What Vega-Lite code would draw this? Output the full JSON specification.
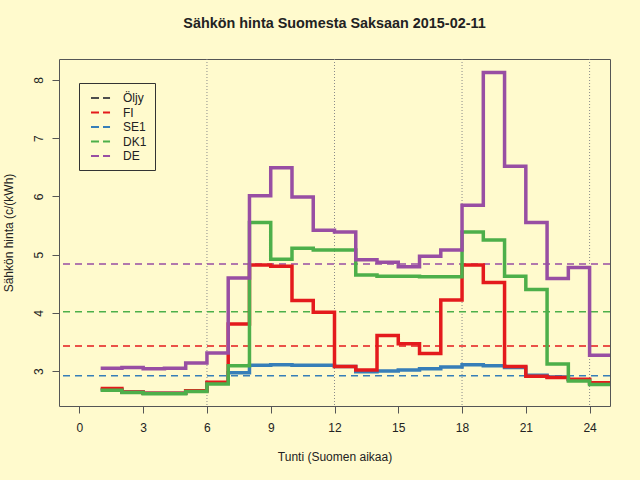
{
  "$schema": "https://vega.github.io/schema/vega-lite/v6.json",
  "description": "Sähkön hinta Suomesta Saksaan 2015-02-11, tunneittain",
  "width": 551,
  "height": 347,
  "autosize": {"type": "none"},
  "padding": {"left": 59, "top": 59, "right": 30, "bottom": 74},
  "background": "#FFFACD",
  "config": {
    "font": "Liberation Sans",
    "view": {"stroke": "#555555", "fill": null}
  },
  "title": {
    "text": "Sähkön hinta Suomesta Saksaan 2015-02-11",
    "fontSize": 14.4,
    "fontWeight": "bold",
    "color": "#222222",
    "anchor": "middle",
    "baseline": "alphabetic",
    "offset": 16
  },
  "datasets": {
    "hinnat": [
      {"alue": "SE1", "tunti": 1, "hinta": 2.68}, {"alue": "SE1", "tunti": 2, "hinta": 2.64},
      {"alue": "SE1", "tunti": 3, "hinta": 2.62}, {"alue": "SE1", "tunti": 4, "hinta": 2.62},
      {"alue": "SE1", "tunti": 5, "hinta": 2.66}, {"alue": "SE1", "tunti": 6, "hinta": 2.8},
      {"alue": "SE1", "tunti": 7, "hinta": 2.97}, {"alue": "SE1", "tunti": 8, "hinta": 3.1},
      {"alue": "SE1", "tunti": 9, "hinta": 3.11}, {"alue": "SE1", "tunti": 10, "hinta": 3.1},
      {"alue": "SE1", "tunti": 11, "hinta": 3.1}, {"alue": "SE1", "tunti": 12, "hinta": 3.08},
      {"alue": "SE1", "tunti": 13, "hinta": 2.99}, {"alue": "SE1", "tunti": 14, "hinta": 3.0},
      {"alue": "SE1", "tunti": 15, "hinta": 3.02}, {"alue": "SE1", "tunti": 16, "hinta": 3.04},
      {"alue": "SE1", "tunti": 17, "hinta": 3.07}, {"alue": "SE1", "tunti": 18, "hinta": 3.11},
      {"alue": "SE1", "tunti": 19, "hinta": 3.09}, {"alue": "SE1", "tunti": 20, "hinta": 3.06},
      {"alue": "SE1", "tunti": 21, "hinta": 2.93}, {"alue": "SE1", "tunti": 22, "hinta": 2.9},
      {"alue": "SE1", "tunti": 23, "hinta": 2.85}, {"alue": "SE1", "tunti": 24, "hinta": 2.79},
      {"alue": "SE1", "tunti": 25, "hinta": 2.79},
      {"alue": "FI", "tunti": 1, "hinta": 2.7}, {"alue": "FI", "tunti": 2, "hinta": 2.64},
      {"alue": "FI", "tunti": 3, "hinta": 2.62}, {"alue": "FI", "tunti": 4, "hinta": 2.62},
      {"alue": "FI", "tunti": 5, "hinta": 2.66}, {"alue": "FI", "tunti": 6, "hinta": 2.81},
      {"alue": "FI", "tunti": 7, "hinta": 3.81}, {"alue": "FI", "tunti": 8, "hinta": 4.82},
      {"alue": "FI", "tunti": 9, "hinta": 4.8}, {"alue": "FI", "tunti": 10, "hinta": 4.21},
      {"alue": "FI", "tunti": 11, "hinta": 4.01}, {"alue": "FI", "tunti": 12, "hinta": 3.08},
      {"alue": "FI", "tunti": 13, "hinta": 3.02}, {"alue": "FI", "tunti": 14, "hinta": 3.61},
      {"alue": "FI", "tunti": 15, "hinta": 3.47}, {"alue": "FI", "tunti": 16, "hinta": 3.3},
      {"alue": "FI", "tunti": 17, "hinta": 4.22}, {"alue": "FI", "tunti": 18, "hinta": 4.82},
      {"alue": "FI", "tunti": 19, "hinta": 4.52}, {"alue": "FI", "tunti": 20, "hinta": 3.08},
      {"alue": "FI", "tunti": 21, "hinta": 2.91}, {"alue": "FI", "tunti": 22, "hinta": 2.89},
      {"alue": "FI", "tunti": 23, "hinta": 2.86}, {"alue": "FI", "tunti": 24, "hinta": 2.8},
      {"alue": "FI", "tunti": 25, "hinta": 2.8},
      {"alue": "DK1", "tunti": 1, "hinta": 2.67}, {"alue": "DK1", "tunti": 2, "hinta": 2.63},
      {"alue": "DK1", "tunti": 3, "hinta": 2.61}, {"alue": "DK1", "tunti": 4, "hinta": 2.61},
      {"alue": "DK1", "tunti": 5, "hinta": 2.65}, {"alue": "DK1", "tunti": 6, "hinta": 2.78},
      {"alue": "DK1", "tunti": 7, "hinta": 3.09}, {"alue": "DK1", "tunti": 8, "hinta": 5.55},
      {"alue": "DK1", "tunti": 9, "hinta": 4.92}, {"alue": "DK1", "tunti": 10, "hinta": 5.11},
      {"alue": "DK1", "tunti": 11, "hinta": 5.08}, {"alue": "DK1", "tunti": 12, "hinta": 5.08},
      {"alue": "DK1", "tunti": 13, "hinta": 4.65}, {"alue": "DK1", "tunti": 14, "hinta": 4.63},
      {"alue": "DK1", "tunti": 15, "hinta": 4.63}, {"alue": "DK1", "tunti": 16, "hinta": 4.62},
      {"alue": "DK1", "tunti": 17, "hinta": 4.62}, {"alue": "DK1", "tunti": 18, "hinta": 5.39},
      {"alue": "DK1", "tunti": 19, "hinta": 5.25}, {"alue": "DK1", "tunti": 20, "hinta": 4.63},
      {"alue": "DK1", "tunti": 21, "hinta": 4.4}, {"alue": "DK1", "tunti": 22, "hinta": 3.12},
      {"alue": "DK1", "tunti": 23, "hinta": 2.83}, {"alue": "DK1", "tunti": 24, "hinta": 2.77},
      {"alue": "DK1", "tunti": 25, "hinta": 2.77},
      {"alue": "DE", "tunti": 1, "hinta": 3.05}, {"alue": "DE", "tunti": 2, "hinta": 3.06},
      {"alue": "DE", "tunti": 3, "hinta": 3.04}, {"alue": "DE", "tunti": 4, "hinta": 3.05},
      {"alue": "DE", "tunti": 5, "hinta": 3.14}, {"alue": "DE", "tunti": 6, "hinta": 3.31},
      {"alue": "DE", "tunti": 7, "hinta": 4.6}, {"alue": "DE", "tunti": 8, "hinta": 6.01},
      {"alue": "DE", "tunti": 9, "hinta": 6.49}, {"alue": "DE", "tunti": 10, "hinta": 5.99},
      {"alue": "DE", "tunti": 11, "hinta": 5.42}, {"alue": "DE", "tunti": 12, "hinta": 5.39},
      {"alue": "DE", "tunti": 13, "hinta": 4.91}, {"alue": "DE", "tunti": 14, "hinta": 4.87},
      {"alue": "DE", "tunti": 15, "hinta": 4.79}, {"alue": "DE", "tunti": 16, "hinta": 4.97},
      {"alue": "DE", "tunti": 17, "hinta": 5.08}, {"alue": "DE", "tunti": 18, "hinta": 5.85},
      {"alue": "DE", "tunti": 19, "hinta": 8.13}, {"alue": "DE", "tunti": 20, "hinta": 6.52},
      {"alue": "DE", "tunti": 21, "hinta": 5.55}, {"alue": "DE", "tunti": 22, "hinta": 4.59},
      {"alue": "DE", "tunti": 23, "hinta": 4.78}, {"alue": "DE", "tunti": 24, "hinta": 3.27},
      {"alue": "DE", "tunti": 25, "hinta": 3.27}
    ],
    "keskiarvot": [
      {"alue": "SE1", "hinta": 2.92},
      {"alue": "FI", "hinta": 3.43},
      {"alue": "DK1", "hinta": 4.02},
      {"alue": "DE", "hinta": 4.84}
    ],
    "jaot": [{"tunti": 6}, {"tunti": 12}, {"tunti": 18}, {"tunti": 24}]
  },
  "layer": [
    {
      "data": {"name": "jaot"},
      "mark": {"type": "rule", "color": "#8a8a8a", "strokeWidth": 1, "strokeDash": [1, 2]},
      "encoding": {
        "x": {"field": "tunti", "type": "quantitative"}
      }
    },
    {
      "data": {"name": "keskiarvot"},
      "mark": {"type": "rule", "strokeWidth": 1.5, "strokeDash": [7, 5]},
      "encoding": {
        "y": {"field": "hinta", "type": "quantitative"},
        "color": {"field": "alue", "type": "nominal"}
      }
    },
    {
      "data": {"name": "hinnat"},
      "mark": {"type": "line", "interpolate": "step-after", "strokeWidth": 3.5, "clip": true},
      "encoding": {
        "x": {
          "field": "tunti",
          "type": "quantitative",
          "scale": {"domain": [-0.96, 24.96], "nice": false, "zero": false},
          "axis": {
            "values": [0, 3, 6, 9, 12, 15, 18, 21, 24],
            "format": "d",
            "grid": false,
            "domain": false,
            "tickSize": 7,
            "tickColor": "#555555",
            "labelFontSize": 12,
            "labelColor": "#222222",
            "labelPadding": 9,
            "labelBaseline": "top",
            "title": "Tunti (Suomen aikaa)",
            "titleFontSize": 12,
            "titleFontWeight": "normal",
            "titleColor": "#222222",
            "titleBaseline": "alphabetic",
            "titleX": 275.5,
            "titleY": 54
          }
        },
        "y": {
          "field": "hinta",
          "type": "quantitative",
          "scale": {"domain": [2.4, 8.36], "nice": false, "zero": false},
          "axis": {
            "values": [3, 4, 5, 6, 7, 8],
            "format": "d",
            "grid": false,
            "domain": false,
            "tickSize": 7,
            "tickColor": "#555555",
            "labelFontSize": 12,
            "labelColor": "#222222",
            "labelAngle": -90,
            "labelAlign": "center",
            "labelBaseline": "alphabetic",
            "labelPadding": 10,
            "title": "Sähkön hinta (c/(kWh)",
            "titleFontSize": 12,
            "titleFontWeight": "normal",
            "titleColor": "#222222",
            "titleAngle": -90,
            "titleAlign": "center",
            "titleBaseline": "alphabetic",
            "titleX": -47,
            "titleY": 173.5
          }
        },
        "color": {
          "field": "alue",
          "type": "nominal",
          "scale": {
            "domain": ["Öljy", "FI", "SE1", "DK1", "DE"],
            "range": ["#4D4D4D", "#E41A1C", "#377EB8", "#4DAF4A", "#984EA3"]
          },
          "legend": {
            "title": null,
            "orient": "none",
            "legendX": 20,
            "legendY": 24,
            "strokeColor": "#333333",
            "padding": 8,
            "symbolType": "M-0.5,0H2.67",
            "symbolSize": 144,
            "symbolStrokeWidth": 2,
            "symbolDash": [8, 4],
            "symbolFillColor": "transparent",
            "labelFontSize": 12,
            "labelColor": "#222222",
            "labelOffset": 22,
            "rowPadding": 1.5
          }
        }
      }
    }
  ]
}
